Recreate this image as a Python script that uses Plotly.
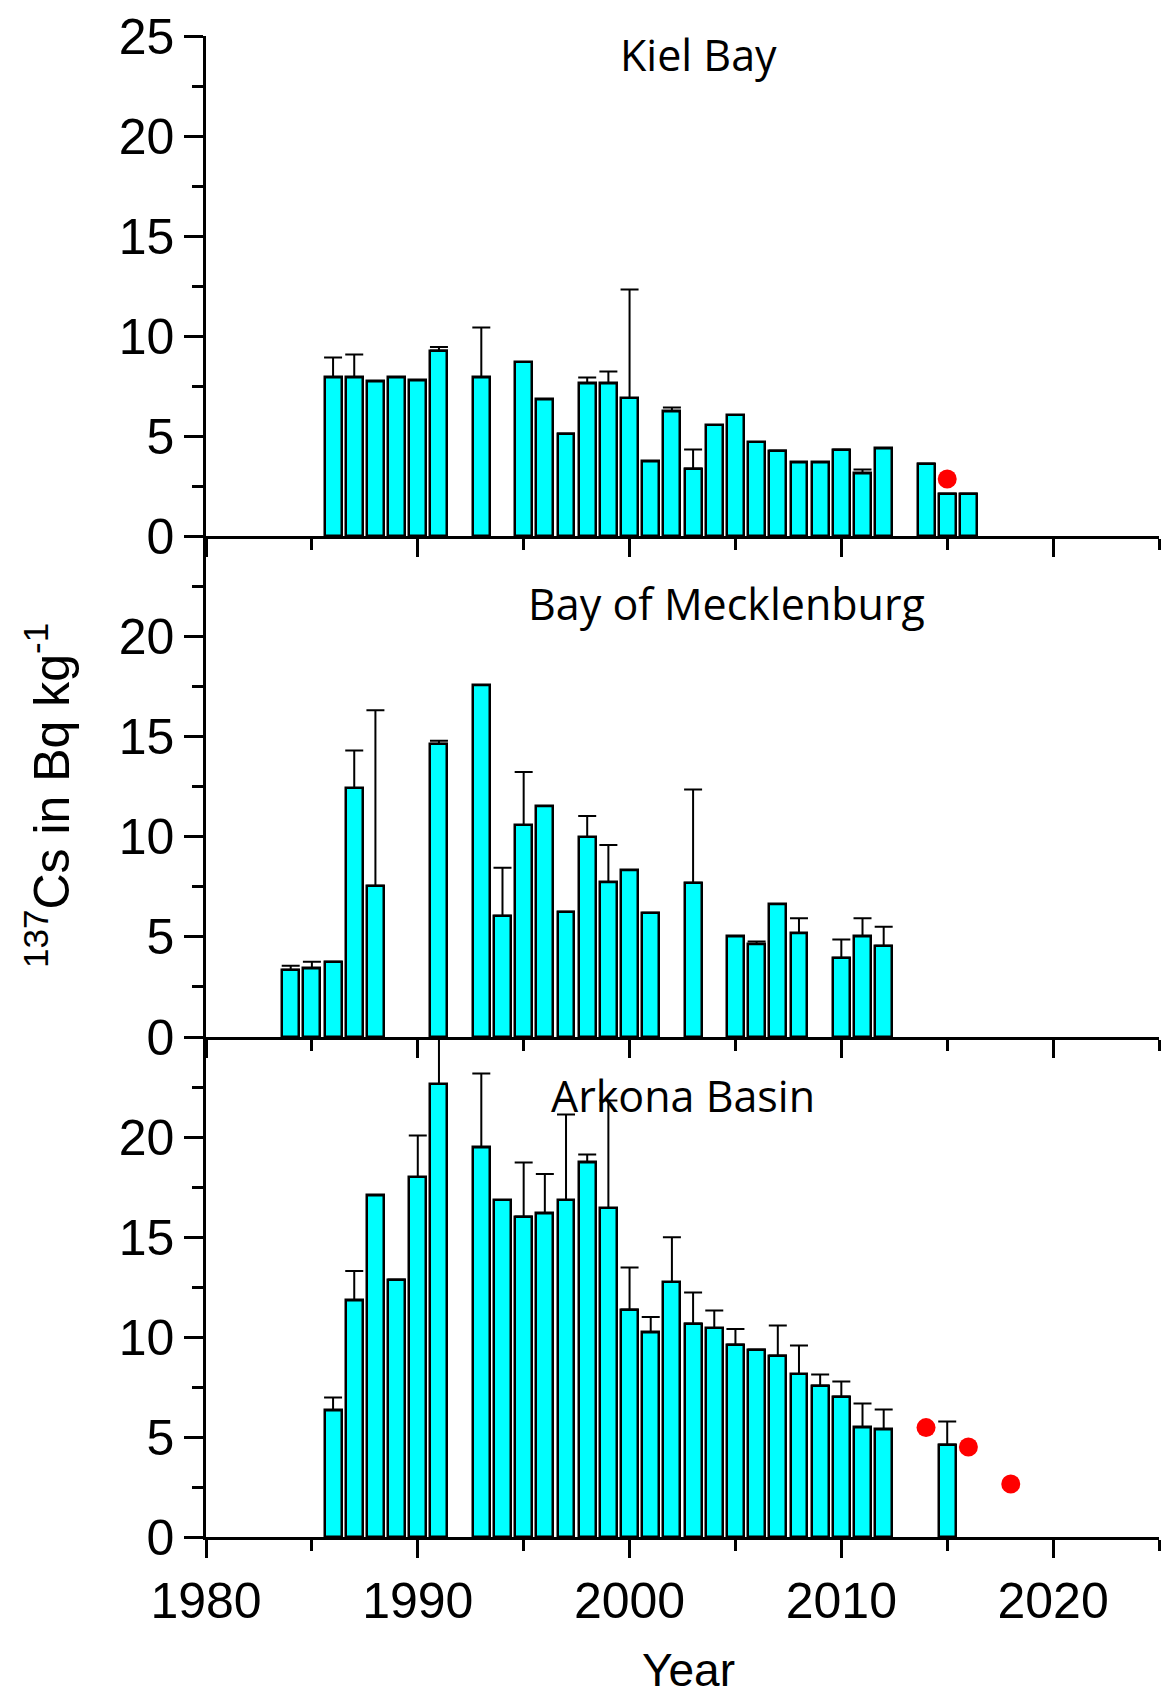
import plotly.graph_objects as go

# ---------------- data ----------------
kiel_years = [1986, 1987, 1988, 1989, 1990, 1991, 1993, 1995, 1996, 1997, 1998, 1999,
              2000, 2001, 2002, 2003, 2004, 2005, 2006, 2007, 2008, 2009, 2010, 2011,
              2012, 2014, 2015, 2016]
kiel_values = [7.93, 7.93, 7.73, 7.93, 7.78, 9.27, 7.93, 8.70, 6.83, 5.12, 7.63, 7.63,
               6.90, 3.73, 6.23, 3.37, 5.55, 6.05, 4.70, 4.27, 3.68, 3.68, 4.32, 3.13,
               4.38, 3.62, 2.12, 2.12]
kiel_err = [0.99, 1.15, 0, 0, 0, 0.18, 2.49, 0, 0, 0, 0.29, 0.60,
            5.43, 0, 0.19, 0.95, 0, 0, 0, 0, 0, 0, 0, 0.19,
            0, 0, 0, 0]
kiel_dot_years = [2015]
kiel_dot_values = [2.85]

meck_years = [1984, 1985, 1986, 1987, 1988, 1991, 1993, 1994, 1995, 1996, 1997, 1998,
              1999, 2000, 2001, 2003, 2005, 2006, 2007, 2008, 2010, 2011, 2012]
meck_values = [3.35, 3.42, 3.75, 12.42, 7.55, 14.63, 17.55, 6.05, 10.58, 11.52, 6.25, 9.98,
               7.72, 8.32, 6.20, 7.70, 5.02, 4.63, 6.63, 5.18, 3.95, 5.02, 4.55]
meck_err = [0.20, 0.33, 0, 1.88, 8.75, 0.15, 0, 2.40, 2.64, 0, 0, 1.05,
            1.86, 0, 0, 4.65, 0, 0.14, 0, 0.75, 0.92, 0.91, 0.95]

ark_years = [1986, 1987, 1988, 1989, 1990, 1991, 1993, 1994, 1995, 1996, 1997, 1998,
             1999, 2000, 2001, 2002, 2003, 2004, 2005, 2006, 2007, 2008, 2009, 2010,
             2011, 2012, 2015]
ark_values = [6.33, 11.83, 17.08, 12.87, 18.00, 22.65, 19.48, 16.85, 16.02, 16.18, 16.85, 18.73,
              16.45, 11.37, 10.23, 12.75, 10.67, 10.45, 9.62, 9.37, 9.07, 8.15, 7.57, 7.02,
              5.48, 5.38, 4.62]
ark_err = [0.64, 1.47, 0, 0, 2.08, 3.50, 3.70, 0, 2.71, 1.97, 4.28, 0.39,
           5.37, 2.11, 0.77, 2.24, 1.55, 0.87, 0.78, 0, 1.50, 1.42, 0.55, 0.76,
           1.19, 1.00, 1.15]
ark_dot_years = [2014, 2016, 2018]
ark_dot_values = [5.47, 4.50, 2.65]

panel_titles = ["Kiel Bay", "Bay of Mecklenburg", "Arkona Basin"]
x_tickvals = [1980, 1990, 2000, 2010, 2020]
y_tickvals_top = [0, 5, 10, 15, 20, 25]
y_tickvals_low = [0, 5, 10, 15, 20]

# ---------------- styling ----------------
BAR_COLOR = "#00FFFF"
DOT_COLOR = "#FF0000"
AX_W = 2.5
TICK_FONT = dict(family="Liberation Sans, Arial, sans-serif", size=50, color="black")

fig = go.Figure()

panels = [
    (kiel_years, kiel_values, kiel_err, kiel_dot_years, kiel_dot_values, "x", "y"),
    (meck_years, meck_values, meck_err, [], [], "x2", "y2"),
    (ark_years, ark_values, ark_err, ark_dot_years, ark_dot_values, "x3", "y3"),
]

for yrs, vals, errs, dyrs, dvals, xa, ya in panels:
    fig.add_trace(go.Bar(
        x=yrs, y=vals, width=0.8, xaxis=xa, yaxis=ya,
        marker=dict(color=BAR_COLOR, line=dict(color="black", width=2.5)),
        error_y=dict(type="data", symmetric=False, array=errs,
                     arrayminus=[0] * len(errs), color="black",
                     thickness=2, width=9),
        showlegend=False,
    ))
    if dyrs:
        fig.add_trace(go.Scatter(
            x=dyrs, y=dvals, mode="markers", xaxis=xa, yaxis=ya,
            marker=dict(color=DOT_COLOR, size=19, line=dict(width=0)),
            showlegend=False,
        ))

H = 1501.0
domains = {
    "y": [1001 / H, 1.0],
    "y2": [500 / H, 1001 / H],
    "y3": [0.0, 500 / H],
}


def xaxis_cfg(anchor, show_labels):
    return dict(
        domain=[0, 1], anchor=anchor, range=[1980, 2025],
        showline=True, linecolor="black", linewidth=AX_W,
        ticks="outside", ticklen=18, tickwidth=AX_W, tickcolor="black",
        tickmode="array", tickvals=x_tickvals,
        minor=dict(dtick=5, tick0=1980, ticks="outside", ticklen=11,
                   tickwidth=AX_W, tickcolor="black", showgrid=False),
        showticklabels=show_labels, tickfont=TICK_FONT,
        showgrid=False, zeroline=False, fixedrange=True,
    )


def yaxis_cfg(anchor, dom, tickvals):
    return dict(
        domain=dom, anchor=anchor, range=[0, 25],
        showline=True, linecolor="black", linewidth=AX_W,
        ticks="outside", ticklen=19, tickwidth=AX_W, tickcolor="black",
        tickmode="array", tickvals=tickvals,
        minor=dict(dtick=2.5, tick0=0, ticks="outside", ticklen=11,
                   tickwidth=AX_W, tickcolor="black", showgrid=False),
        tickfont=TICK_FONT, showgrid=False, zeroline=False, fixedrange=True,
    )


fig.update_layout(
    width=1161, height=1697,
    margin=dict(l=206, r=2, t=36, b=160),
    paper_bgcolor="white", plot_bgcolor="white",
    bargap=0, showlegend=False,
    xaxis=xaxis_cfg("y", False),
    xaxis2=xaxis_cfg("y2", False),
    xaxis3=xaxis_cfg("y3", True),
    yaxis=yaxis_cfg("x", domains["y"], y_tickvals_top),
    yaxis2=yaxis_cfg("x2", domains["y2"], y_tickvals_low),
    yaxis3=yaxis_cfg("x3", domains["y3"], y_tickvals_low),
)

TITLE_FONT = dict(family="Open Sans, sans-serif", size=43, color="black")
title_pos = [("x", "y", 2003.25, 24.1), ("x2", "y2", 2004.6, 21.65), ("x3", "y3", 2002.5, 22.1)]
annotations = []
for txt, (xr, yr, xx, yy) in zip(panel_titles, title_pos):
    annotations.append(dict(text=txt, xref=xr, yref=yr, x=xx, y=yy,
                            xanchor="center", yanchor="middle", showarrow=False,
                            font=TITLE_FONT))

annotations.append(dict(
    text="<sup>137</sup>Cs in Bq kg<sup>-1</sup>", textangle=-90,
    xref="paper", yref="paper", x=(48 - 206) / 953, y=(1537 - 796) / H,
    xanchor="center", yanchor="middle", showarrow=False,
    font=dict(family="Liberation Sans, Arial, sans-serif", size=50, color="black"),
))
annotations.append(dict(
    text="Year", xref="paper", yref="paper", x=(688 - 206) / 953, y=0,
    xanchor="center", yanchor="middle", yshift=-133, showarrow=False,
    font=dict(family="Liberation Sans, Arial, sans-serif", size=46, color="black"),
))
fig.update_layout(annotations=annotations)

fig.write_html("out.html")
